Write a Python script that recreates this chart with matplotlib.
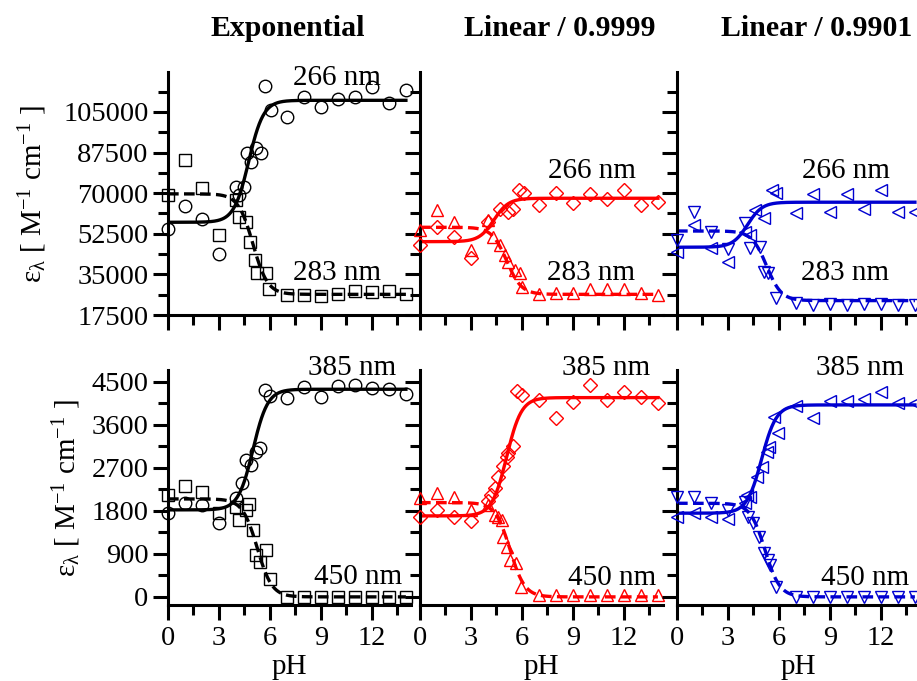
import numpy as np
import matplotlib
matplotlib.use("Agg")
import matplotlib.pyplot as plt
from matplotlib.ticker import MultipleLocator, FormatStrFormatter

plt.rcParams['font.family'] = ['Liberation Serif', 'DejaVu Serif']
plt.rcParams['mathtext.fontset'] = 'custom'
plt.rcParams['mathtext.rm'] = 'Liberation Serif'
plt.rcParams['mathtext.it'] = 'Liberation Serif:italic'
plt.rcParams['mathtext.default'] = 'regular'

# ── data ─────────────────────────────────────────────────────────────────
titles = ["Exponential", "Linear / 0.9999", "Linear / 0.9901"]
colors = ["black", "#ff0000", "#0000d0"]
wl_top = ["266 nm", "283 nm"]
wl_bot = ["385 nm", "450 nm"]

# Exponential, 266 nm (o) / 283 nm (s)
ph_exp_266 = [0, 1, 2, 3, 4, 4.15, 4.45, 4.65, 4.9, 5.2, 5.5, 5.7, 6.05, 7, 8, 9, 10, 11, 12, 13, 14]
eps_exp_266 = [54500, 64600, 58900, 43800, 72800, 69000, 72800, 87200, 83600, 89300, 87400, 116200,
               105900, 103000, 111300, 107000, 110500, 111300, 115900, 109000, 114500]
ph_exp_283 = [0, 1, 2, 3, 4, 4.15, 4.6, 4.85, 5.1, 5.25, 5.75, 5.95, 7, 8, 9, 10, 11, 12, 13, 14]
eps_exp_283 = [69000, 84300, 72100, 52000, 67000, 59900, 57700, 49100, 41200, 35700, 35700, 28800,
               26100, 26100, 25800, 26400, 28000, 27600, 28000, 26400]

# Linear / 0.9999, 266 nm (D) / 283 nm (^)
ph_lin1_266 = [0, 1, 2, 3, 4, 4.7, 5.2, 5.5, 5.8, 6.1, 7, 8, 9, 10, 11, 12, 13, 14]
eps_lin1_266 = [47700, 55500, 51300, 42000, 57700, 63000, 62000, 63000, 71400, 70000,
                64900, 70000, 65900, 69700, 67400, 71400, 64900, 66300]
ph_lin1_283 = [0, 1, 2, 3, 4, 4.3, 4.7, 5.0, 5.2, 5.6, 5.9, 6.0, 7, 8, 9, 10, 11, 12, 13, 14]
eps_lin1_283 = [54100, 62800, 57700, 45500, 58400, 51300, 47700, 43400, 40500, 36900, 35500, 29700,
                26500, 27100, 26800, 28600, 28600, 28600, 26800, 26100]

# Linear / 0.9901, 266 nm (<) / 283 nm (v)
ph_lin2_266 = [0, 1, 2, 3, 4, 4.3, 4.6, 5.1, 5.6, 5.8, 7, 8, 9, 10, 11, 12, 13, 14]
eps_lin2_266 = [44800, 56300, 46200, 40500, 53400, 52000, 62800, 59200, 71400, 70000,
                61500, 69700, 62000, 69700, 63000, 71400, 62000, 62000]
ph_lin2_283 = [0, 1, 2, 3, 4, 4.3, 4.9, 5.1, 5.35, 5.85, 7, 8, 9, 10, 11, 12, 13, 14]
eps_lin2_283 = [49800, 62000, 53400, 46000, 57000, 46200, 47000, 36200, 35500, 24700,
                22500, 21800, 22300, 22000, 22300, 22300, 22000, 21800]

# Exponential, 385 nm (o) / 450 nm (s)
ph_exp_385 = [0, 1, 2, 3, 4, 4.35, 4.6, 4.9, 5.2, 5.4, 5.7, 6.0, 7, 8, 9, 10, 11, 12, 13, 14]
eps_exp_385 = [1750, 1960, 1930, 1540, 2070, 2380, 2870, 2760, 3040, 3110, 4330, 4210,
               4160, 4400, 4180, 4420, 4440, 4370, 4350, 4250]
ph_exp_450 = [0, 1, 2, 3, 4, 4.2, 4.6, 4.75, 5.0, 5.2, 5.4, 5.75, 5.98, 7, 8, 9, 10, 11, 12, 13, 14]
eps_exp_450 = [2135, 2330, 2200, 1765, 1890, 1610, 1820, 1950, 1400, 880, 720, 985, 370,
               0, 0, 0, 0, 0, 0, 0, 0]

# Linear / 0.9999, 385 nm (D) / 450 nm (^)
ph_lin1_385 = [0, 1, 2, 3, 4, 4.2, 4.4, 4.6, 4.9, 5.1, 5.2, 5.5, 5.73, 6.0, 7, 8, 9, 10, 11, 12, 13, 14]
eps_lin1_385 = [1670, 1810, 1680, 1580, 2000, 2135, 2275, 2520, 2730, 2935, 3015, 3160, 4300, 4230,
                4120, 3740, 4090, 4440, 4120, 4280, 4180, 4050]
ph_lin1_450 = [0, 1, 2, 3, 4, 4.4, 4.6, 4.8, 4.9, 5.1, 5.3, 5.65, 5.95, 7, 8, 9, 10, 11, 12, 13, 14]
eps_lin1_450 = [2070, 2170, 2090, 1820, 1930, 1720, 1680, 1610, 1260, 1050, 775, 705, 215,
                30, 30, 30, 30, 30, 30, 30, 30]

# Linear / 0.9901, 385 nm (<) / 450 nm (v)
ph_lin2_385 = [0, 1, 2, 3, 4, 4.1, 4.3, 4.7, 5.0, 5.3, 5.4, 5.7, 5.95, 7, 8, 9, 10, 11, 12, 13, 14]
eps_lin2_385 = [1680, 1750, 1680, 1625, 1974, 2135, 2099, 2518, 2727, 3041, 3146, 3774, 3426,
                3998, 3740, 4109, 4109, 4137, 4297, 4067, 4054]
ph_lin2_450 = [0, 1, 2, 3, 4, 4.2, 4.5, 4.8, 5.1, 5.35, 5.5, 5.8, 7, 8, 9, 10, 11, 12, 13, 14]
eps_lin2_450 = [2100, 2100, 1975, 1820, 1995, 1680, 1540, 1262, 915, 775, 670, 216,
                0, 0, 0, 0, 0, 0, 0, 0]

# fitted curves: (eps acid, eps base, pKa)
fit_exp_266 = (57450, 110000, 4.75)
fit_exp_283 = (69700, 26400, 5.0)
fit_lin1_266 = (49100, 67800, 4.35)
fit_lin1_283 = (55300, 26400, 5.1)
fit_lin2_266 = (46700, 66100, 4.15)
fit_lin2_283 = (53700, 23700, 5.27)
fit_exp_385 = (1821, 4347, 5.0)
fit_exp_450 = (2051, 0, 5.25)
fit_lin1_385 = (1695, 4172, 5.1)
fit_lin1_450 = (1974, 0, 5.3)
fit_lin2_385 = (1752, 4019, 4.98)
fit_lin2_450 = (1960, 0, 5.18)


def hh(ph, acid, base, pka):
    return acid + (base - acid) / (1 + 10 ** (pka - ph))


top_series = [
    ((ph_exp_266, eps_exp_266, fit_exp_266), (ph_exp_283, eps_exp_283, fit_exp_283)),
    ((ph_lin1_266, eps_lin1_266, fit_lin1_266), (ph_lin1_283, eps_lin1_283, fit_lin1_283)),
    ((ph_lin2_266, eps_lin2_266, fit_lin2_266), (ph_lin2_283, eps_lin2_283, fit_lin2_283)),
]
bot_series = [
    ((ph_exp_385, eps_exp_385, fit_exp_385), (ph_exp_450, eps_exp_450, fit_exp_450)),
    ((ph_lin1_385, eps_lin1_385, fit_lin1_385), (ph_lin1_450, eps_lin1_450, fit_lin1_450)),
    ((ph_lin2_385, eps_lin2_385, fit_lin2_385), (ph_lin2_450, eps_lin2_450, fit_lin2_450)),
]
markers = [("o", "s"), ("D", "^"), ("<", "v")]
msizes = {"o": 9, "s": 8.2, "D": 6.8, "^": 9.2, "<": 9.2, "v": 9.2}

# ── layout (pixels) ──────────────────────────────────────────────────────
W, H = 917, 681
fig = plt.figure(figsize=(W / 100, H / 100), dpi=100)
col_left = [168, 420, 677]
col_w = 243
rows = [(72, 315), (370, 605)]


def fx(px):
    return px / W


def fy(py):
    return 1 - py / H


ph_grid = np.linspace(0, 14, 400)
ylabel = r'ε$_{\lambda}$ [ M$^{-1}$ cm$^{-1}$ ]'

for r, (top, bot) in enumerate(rows):
    series = top_series if r == 0 else bot_series
    for c in range(3):
        ax = fig.add_axes([fx(col_left[c]), fy(bot), col_w / W, (bot - top) / H])
        col = colors[c]
        for k, (ph, eps, fit) in enumerate(series[c]):
            ls = '-' if k == 0 else (0, (3.2, 1.6))
            ax.plot(ph_grid, hh(ph_grid, *fit), color=col, lw=2.4, ls=ls, zorder=2)
            m = markers[c][k]
            ax.plot(ph, eps, ls='none', marker=m, ms=msizes[m], mfc='none',
                    mec=col, mew=1.0, zorder=3, clip_on=False)

        ax.set_xlim(0, 14.3)
        if r == 0:
            ax.set_ylim(17500, 122200)
            ax.yaxis.set_major_locator(MultipleLocator(17500))
            ax.yaxis.set_minor_locator(MultipleLocator(8750))
        else:
            ax.set_ylim(-170, 4750)
            ax.yaxis.set_major_locator(MultipleLocator(900))
            ax.yaxis.set_minor_locator(MultipleLocator(450))
        ax.xaxis.set_major_locator(MultipleLocator(3))
        ax.xaxis.set_minor_locator(MultipleLocator(1.5))
        ax.xaxis.set_major_formatter(FormatStrFormatter('%d'))
        ax.yaxis.set_major_formatter(FormatStrFormatter('%d'))

        for s in ['top', 'right']:
            ax.spines[s].set_visible(False)
        for s in ['left', 'bottom']:
            ax.spines[s].set_linewidth(2.2)
        ax.tick_params(which='major', direction='out', length=11, width=2.2,
                       labelsize=20.5, pad=3)
        ax.tick_params(which='minor', direction='out', length=7, width=2.2)
        ax.tick_params(axis='x', which='major', pad=4)
        ax.patch.set_alpha(0)

        if c > 0:
            ax.tick_params(labelleft=False)
        else:
            ax.set_ylabel(ylabel, fontsize=21, labelpad=10 if r == 0 else 6)
        if r == 0:
            ax.tick_params(labelbottom=False)
        else:
            ax.set_xlabel('pH', fontsize=21, labelpad=2)

# column titles
title_x = [288, 560, 817]
for c in range(3):
    fig.text(fx(title_x[c]), fy(36), titles[c], ha='center', va='baseline',
             fontsize=21.5, fontweight='bold')

# wavelength labels
lab_top_x = [[337, 337], [592, 591], [846, 845]]
lab_top_y = [[85, 280], [178, 280], [178, 280]]
lab_bot_x = [[352, 358], [606, 612], [860, 865]]
lab_bot_y = [[375, 584], [375, 585], [375, 585]]
for c in range(3):
    for k in range(2):
        fig.text(fx(lab_top_x[c][k]), fy(lab_top_y[c][k]), wl_top[k],
                 ha='center', va='baseline', fontsize=21)
        fig.text(fx(lab_bot_x[c][k]), fy(lab_bot_y[c][k]), wl_bot[k],
                 ha='center', va='baseline', fontsize=21)

fig.savefig('out.png', dpi=100)
